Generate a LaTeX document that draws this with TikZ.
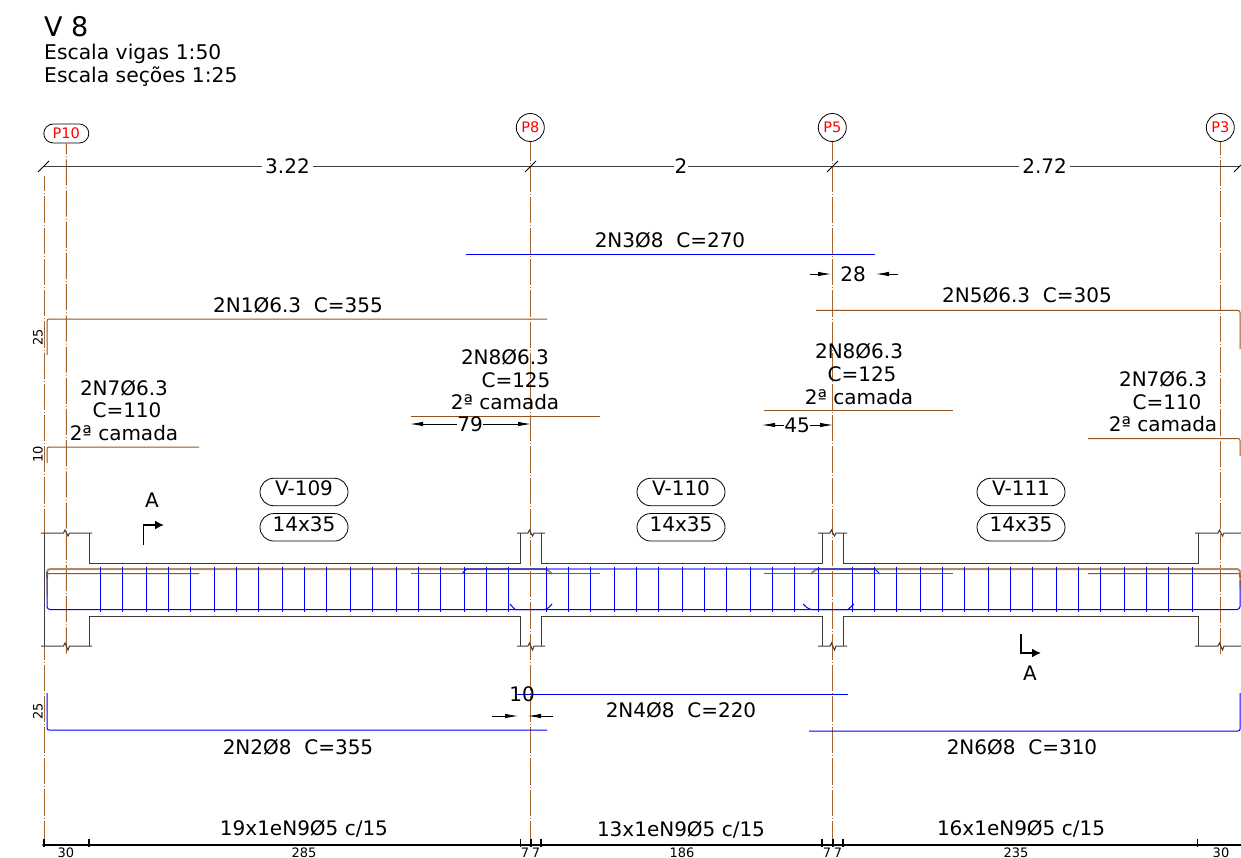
\documentclass[tikz,border=0pt]{standalone}
\usepackage{fontspec}
\setmainfont{DejaVu Sans}
\usetikzlibrary{arrows.meta,positioning,shapes.misc}
\definecolor{axisbrown}{RGB}{165,100,45}
\definecolor{barbrown}{RGB}{145,85,35}
\definecolor{bartan}{RGB}{175,140,105}
\definecolor{barblue}{RGB}{0,0,255}
\definecolor{outlinegray}{RGB}{60,60,60}
\begin{document}
\begin{tikzpicture}[x=1pt,y=-1pt,
    lbl/.style = {font=\fontsize{20}{20}\selectfont, inner sep=0pt},
    small/.style = {font=\fontsize{13}{13}\selectfont, inner sep=0pt},
    pilar/.style = {draw, line width=.8pt, circle, minimum size=28pt, inner sep=0pt, text=red, font=\fontsize{14.5}{14.5}\selectfont},
    pilarwide/.style = {draw, line width=.8pt, rounded rectangle, minimum width=45pt, minimum height=19pt, inner sep=0pt, text=red, font=\fontsize{14.5}{14.5}\selectfont},
    pill/.style = {draw, line width=.8pt, rounded rectangle, minimum width=88pt, minimum height=27.5pt, inner sep=0pt, text depth=7pt, font=\fontsize{20}{20}\selectfont},
    axisline/.style = {axisbrown, line width=1pt, dash pattern=on 26.2pt off 2pt on 1pt off 2pt, dash phase=#1},
    outline/.style = {outlinegray, line width=1pt},
    brownbar/.style = {barbrown, line width=1pt, rounded corners=2pt},
    bluebar/.style = {barblue, line width=1pt, rounded corners=2pt},
    stirrup/.style = {barblue, line width=1pt},
    dimline/.style = {black!75, line width=.9pt},
    dimarrow/.style = {-{Latex[length=13pt,width=4.5pt]}, black, line width=.8pt},
    sectionmark/.style = {-{Latex[length=9pt,width=9pt]}, black, line width=1.6pt}]
  \clip (0,0) rectangle (1241,858);
  \fill[white] (0,0) rectangle (1241,858);
  %
  \node[anchor=north west, inner sep=0pt, font=\fontsize{27}{27}\selectfont] (title) at (44,16) {V 8};
  \node[anchor=west, inner sep=0pt, font=\fontsize{20.3}{20.3}\selectfont] (scale1) at (44,54) {Escala vigas 1:50};
  \node[anchor=west, inner sep=0pt, font=\fontsize{20.3}{20.3}\selectfont] (scale2) at (44,77) {Escala seções 1:25};
  %
  \node[pilarwide] (P10) at (66.3,133.5) {P10};
  \node[pilar] (P8) at (530.3,127.5) {P8};
  \node[pilar] (P5) at (832.3,127.5) {P5};
  \node[pilar] (P3) at (1220.3,127.5) {P3};
  %
  \coordinate (E0) at (44,176);
  \coordinate (E1) at (44,845);
  \coordinate (P10b) at (66.3,655);
  \coordinate (P8b) at (530.3,845);
  \coordinate (P5b) at (832.3,845);
  \coordinate (P3b) at (1220.3,655);
  \draw[axisline=10.7] (E0) -- (E1);
  \draw[axisline=15.3] (P10) -- (P10b);
  \draw[axisline=7.5] (P8) -- (P8b);
  \draw[axisline=7.5] (P5) -- (P5b);
  \draw[axisline=13.3] (P3) -- (P3b);
  %
  \coordinate (D0) at (44,166);
  \coordinate (D1) at (531,166);
  \coordinate (D2) at (833,166);
  \coordinate (D3) at (1240,166);
  \draw[dimline] (D0) -- node[lbl, text=black, fill=white, inner xsep=3pt, pos=.5] (span1) {3.22} (D1);
  \draw[dimline] (D1) -- node[lbl, text=black, fill=white, inner xsep=1pt, pos=.497] (span2) {2} (D2);
  \draw[dimline] (D2) -- node[lbl, text=black, fill=white, inner xsep=3pt, pos=.52] (span3) {2.72} (D3);
  \foreach \x in {44,531,833,1240}
    \draw[black, line width=.8pt] (\x-6,172) -- (\x+5,161);
  %
  % bars above the beam
  \draw[bluebar] (466,255) coordinate (n3a) -- (875,255) coordinate (n3b);
  \node[lbl] (n3) at (670,240) {2N3Ø8~ C=270};
  \draw[brownbar] (47,355) -- (47,319) -- (547,319);
  \node[lbl] (n1) at (298,305) {2N1Ø6.3~ C=355};
  \node[small, rotate=90] (h1) at (38,337) {25};
  \draw[brownbar] (816,310.5) -- (1240,310.5) -- (1240,349);
  \node[lbl] (n5) at (1027,295) {2N5Ø6.3~ C=305};
  \draw[brownbar] (411,416.3) -- (600,416.3);
  \node[lbl] (n8a) at (505,357) {2N8Ø6.3};
  \node[lbl] (n8b) at (516,380) {C=125};
  \node[lbl] (n8c) at (505,402) {2ª camada};
  \draw[brownbar] (764,410) -- (953,410);
  \node[lbl] (n8d) at (859,351) {2N8Ø6.3};
  \node[lbl] (n8e) at (862,374) {C=125};
  \node[lbl] (n8f) at (859,397) {2ª camada};
  \draw[brownbar] (47,463) -- (47,447) -- (199,447);
  \node[small, rotate=90] (h2) at (38,454) {10};
  \node[lbl] (n7a) at (124,388) {2N7Ø6.3};
  \node[lbl] (n7b) at (127,410) {C=110};
  \node[lbl] (n7c) at (124,433) {2ª camada};
  \draw[brownbar] (1088,438.5) -- (1240,438.5) -- (1240,456);
  \node[lbl] (n7d) at (1163,379) {2N7Ø6.3};
  \node[lbl] (n7e) at (1167,402) {C=110};
  \node[lbl] (n7f) at (1163,424) {2ª camada};
  %
  \node[lbl] (d79) at (470,424) {79};
  \draw[dimarrow] (d79) -- (410,424);
  \draw[dimarrow] (d79) -- (531,424);
  \node[lbl] (d45) at (797,425) {45};
  \draw[dimarrow] (d45) -- (762,425);
  \draw[dimarrow] (d45) -- (833,425);
  \node[lbl] (d28) at (853,274) {28};
  \coordinate (d28a) at (810,274);
  \coordinate (d28b) at (898,274);
  \draw[dimarrow] (d28a) -- (831,274);
  \draw[dimarrow] (d28b) -- (876,274);
  %
  \node[pill] (v109) at (304,492) {V-109};
  \node[pill, below=7pt of v109] (s109) {14x35};
  \node[pill] (v110) at (681,492) {V-110};
  \node[pill, below=7pt of v110] (s110) {14x35};
  \node[pill] (v111) at (1021,492) {V-111};
  \node[pill, below=7pt of v111] (s111) {14x35};
  %
  \node[font=\fontsize{20}{20}\selectfont, inner sep=0pt] (A1) at (152,500) {A};
  \coordinate (A1a) at (143.5,545);
  \coordinate (A1b) at (164,525);
  \draw[sectionmark] (A1a) |- (A1b);
  \node[font=\fontsize{20}{20}\selectfont, inner sep=0pt] (A2) at (1030,673) {A};
  \coordinate (A2a) at (1021,634);
  \coordinate (A2b) at (1041,653);
  \draw[sectionmark] (A2a) |- (A2b);
  %
  % concrete outline
  \draw[outline] (44,533) -- (44,646);
  \foreach \a/\b/\c in {41/66.5/92, 517/531/545, 818/833/847, 1195/1221/1241} {
    \draw[outline] (\a,533) -- (\b-3,533) -- (\b-1.5,530) -- (\b+1.5,536) -- (\b+3,533) -- (\c,533);
    \draw[outline] (\a,646) -- (\b-3,646) -- (\b-1.5,643) -- (\b+1.5,650) -- (\b+3,646) -- (\c,646);
  }
  \foreach \y/\z in {533/563, 646/616} {
    \draw[outline] (89,\y) -- (89,\z) -- (520,\z) -- (520,\y);
    \draw[outline] (541,\y) -- (541,\z) -- (822,\z) -- (822,\y);
    \draw[outline] (843,\y) -- (843,\z) -- (1198.5,\z) -- (1198.5,\y);
  }
  %
  % bars inside the beam
  \draw[bartan, line width=2pt, rounded corners=3pt] (47,578) -- (47,569) -- (547,569) -- (552,574);
  \draw[bartan, line width=2pt, rounded corners=3pt] (811,574) -- (816,569) -- (1240,569) -- (1240,578);
  \draw[barblue, line width=2pt, opacity=.5] (466,569) -- (875,569);
  \draw[barblue, line width=1pt] (462,574) -- (466,569);
  \draw[barblue, line width=1pt] (875,569) -- (880,574);
  \draw[barblue, line width=1pt, rounded corners=3pt] (47,572) -- (47,609.5) -- (547,609.5) -- (552,604);
  \draw[barblue, line width=1pt, rounded corners=3pt] (1240,580) -- (1240,609.5) -- (809,609.5) -- (803,604);
  \draw[barblue, line width=1pt] (510,604) -- (515,609.5) -- (848,609.5) -- (854,604);
  \draw[brownbar] (47,595) -- (47,573.5) -- (199,573.5);
  \draw[brownbar] (411,573.5) -- (600,573.5);
  \draw[brownbar] (764,573.5) -- (953,573.5);
  \draw[brownbar] (1088,573.5) -- (1240,573.5) -- (1240,588);
  \foreach \s/\k in {100.3/18, 545.3/12, 851/15}
    \foreach \n in {0,...,\k} {
      \pgfmathsetmacro\xs{2*round((\s+\n*22.67)/2)+.3}
      \draw[stirrup] (\xs,566.5) -- (\xs,612);
    }
  %
  % bars below the beam
  \draw[bluebar] (47,693) -- (47,730) -- (547,730);
  \node[small, rotate=90] (h3) at (38,711) {25};
  \node[lbl] (n2) at (298,747) {2N2Ø8~ C=355};
  \draw[bluebar] (515,694) -- (848,694);
  \node[lbl] (n4) at (681,710) {2N4Ø8~ C=220};
  \draw[bluebar] (809,731) -- (1240,731) -- (1240,693);
  \node[lbl] (n6) at (1022,747) {2N6Ø8~ C=310};
  %
  \node[lbl] (d10) at (522,694) {10};
  \coordinate (d10a) at (492,716);
  \coordinate (d10b) at (553,716);
  \draw[dimarrow] (d10a) -- (518,716);
  \draw[dimarrow] (d10b) -- (528,716);
  %
  % stirrups line
  \coordinate (S0) at (44,845);
  \coordinate (S1) at (1241,845);
  \draw[black, line width=1.5pt] (S0) -- (S1);
  \foreach \x in {44,89,520.5,531,541,822,833,843,1197.5}
    \draw[black, line width=1.5pt] (\x,838.5) -- (\x,847);
  \fill[black] (44,845) circle (1.8pt);
  \node[lbl] (st1) at (304,829) {19x1eN9Ø5 c/15};
  \node[lbl] (st2) at (681,830) {13x1eN9Ø5 c/15};
  \node[lbl] (st3) at (1021,829) {16x1eN9Ø5 c/15};
  \foreach \x/\t in {66/30, 304/285, 525/7, 536/7, 682/186, 827/7, 838/7, 1016/235, 1221/30}
    \node[small] at (\x,852.5) {\t};
\end{tikzpicture}
\end{document}
